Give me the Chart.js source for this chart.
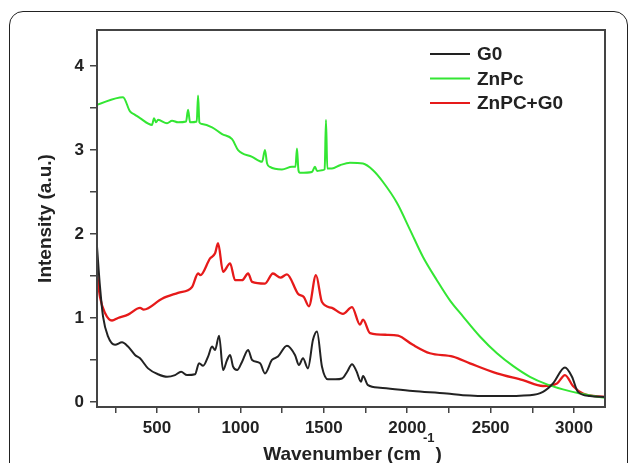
<!DOCTYPE html>
<html>
<head>
<meta charset="utf-8">
<script src="https://cdn.jsdelivr.net/npm/chart.js@4.4.0/dist/chart.umd.min.js"></script>
<style>
  body { margin: 0; background: #fff; }
  #frame {
    position: absolute; left: 9px; top: 11px; width: 617px; height: 480px;
    border: 1.5px solid #222; border-radius: 14px;
  }
  #chart { position: absolute; left: 0; top: 0; }
</style>
</head>
<body>
<div id="frame"></div>
<canvas id="chart" width="629" height="463"></canvas>
<script>
// G0
const g0Wn = [140, 158, 176, 206, 248, 290, 326, 368, 398, 446, 506, 560, 608, 644, 680, 728, 752, 776, 806, 830,
  848, 872, 896, 920, 938, 956, 980, 1010, 1046, 1070, 1118, 1147, 1189, 1225, 1279, 1327, 1351, 1375, 1405, 1435,
  1459, 1489, 1525, 1570, 1609, 1640, 1669, 1695, 1723, 1735, 1765, 1837, 2034, 2238, 2334, 2538, 2736, 2814, 2874,
  2946, 2988, 3024, 3096, 3186];
const g0Int = [1.85, 1.37, 1.02, 0.78, 0.68, 0.71, 0.66, 0.56, 0.52, 0.40, 0.33, 0.30, 0.32, 0.36, 0.32, 0.33, 0.46, 0.43, 0.54, 0.66,
  0.62, 0.79, 0.38, 0.50, 0.56, 0.42, 0.38, 0.48, 0.62, 0.50, 0.46, 0.34, 0.50, 0.54, 0.67, 0.56, 0.44, 0.52, 0.40, 0.74,
  0.84, 0.42, 0.27, 0.27, 0.28, 0.36, 0.45, 0.37, 0.24, 0.31, 0.20, 0.17, 0.13, 0.10, 0.08, 0.07, 0.08, 0.12, 0.22,
  0.41, 0.30, 0.12, 0.07, 0.06];

// ZnPc
const znpcWn = [140, 296, 338, 368, 398, 470, 482, 494, 506, 560, 590, 626, 674, 686, 698, 738, 746, 754, 770, 830,
  890, 950, 986, 1070, 1130, 1147, 1160, 1177, 1249, 1309, 1330, 1339, 1348, 1357, 1429, 1447, 1460, 1489, 1505, 1513,
  1521, 1549, 1597, 1657, 1735, 1795, 1855, 1939, 2017, 2094, 2178, 2256, 2334, 2436, 2538, 2634, 2736, 2838, 2934,
  3036, 3114, 3186];
const znpcInt = [3.54, 3.63, 3.46, 3.42, 3.38, 3.30, 3.38, 3.33, 3.36, 3.32, 3.35, 3.33, 3.34, 3.48, 3.33, 3.34, 3.65, 3.33, 3.31, 3.27,
  3.19, 3.13, 3.00, 2.92, 2.86, 3.00, 2.84, 2.80, 2.77, 2.80, 2.80, 3.02, 2.76, 2.73, 2.74, 2.80, 2.75, 2.76, 2.77, 3.36,
  2.78, 2.78, 2.82, 2.85, 2.84, 2.76, 2.62, 2.37, 2.05, 1.73, 1.45, 1.21, 1.02, 0.78, 0.58, 0.43, 0.30, 0.21, 0.15,
  0.10, 0.07, 0.05];

// ZnPC+G0
const mixWn = [140, 158, 188, 230, 266, 326, 398, 420, 530, 626, 710, 746, 760, 818, 848, 866, 896, 938, 968, 1010,
  1046, 1070, 1147, 1195, 1240, 1279, 1345, 1380, 1411, 1453, 1489, 1549, 1615, 1669, 1717, 1735, 1777, 1879, 1945,
  2034, 2136, 2274, 2376, 2538, 2694, 2814, 2898, 2946, 2994, 3054, 3186];
const mixInt = [1.53, 1.25, 1.06, 0.97, 1.00, 1.04, 1.12, 1.10, 1.23, 1.30, 1.37, 1.53, 1.51, 1.71, 1.77, 1.89, 1.55, 1.65, 1.45, 1.45,
  1.53, 1.43, 1.41, 1.53, 1.48, 1.52, 1.29, 1.25, 1.14, 1.51, 1.19, 1.12, 1.05, 1.13, 0.92, 0.98, 0.82, 0.80, 0.79,
  0.68, 0.58, 0.54, 0.46, 0.34, 0.26, 0.19, 0.22, 0.32, 0.19, 0.10, 0.06];

const seriesNames = ['G0', 'ZnPc', 'ZnPC+G0'];
const seriesColors = ['#222222', '#33e633', '#e61a1a'];

const xTicks = [250, 500, 750, 1000, 1250, 1500, 1750, 2000, 2250, 2500, 2750, 3000];
const yTicks = [0, 0.5, 1, 1.5, 2, 2.5, 3, 3.5, 4];

const fontFam = '"Liberation Sans", Arial, sans-serif';

function toPoints(xs, ys) {
    return xs.map((x, i) => ({ x: x, y: ys[i] }));
}

// box around the plot area, legend inside it, x title with superscript
const extras = {
    id: 'extras',
    afterDatasetsDraw(chart) {
        const ctx = chart.ctx;
        const a = chart.chartArea;
        ctx.save();
        ctx.strokeStyle = '#444';
        ctx.lineWidth = 2;
        ctx.strokeRect(a.left, a.top, a.right - a.left, a.bottom - a.top);

        // legend
        ctx.font = 'bold 19px ' + fontFam;
        ctx.textBaseline = 'middle';
        chart.data.datasets.forEach((ds, i) => {
            const y = a.top + 24 + i * 24.5;
            ctx.strokeStyle = ds.borderColor;
            ctx.lineWidth = 2;
            ctx.beginPath();
            ctx.moveTo(a.left + 333, y);
            ctx.lineTo(a.left + 373, y);
            ctx.stroke();
            ctx.fillStyle = '#222';
            ctx.fillText(ds.label, a.left + 380, y + 1);
        });

        // x title
        const main = 'Wavenumber (cm';
        const sup = '-1';
        const close = ')';
        ctx.font = 'bold 19px ' + fontFam;
        const w1 = ctx.measureText(main).width;
        const w3 = ctx.measureText(close).width;
        ctx.font = 'bold 13px ' + fontFam;
        const w2 = ctx.measureText(sup).width;
        const cx = (a.left + a.right) / 2;
        let x = cx - (w1 + w2 + w3) / 2;
        const base = 460;
        ctx.textBaseline = 'alphabetic';
        ctx.fillStyle = '#222';
        ctx.font = 'bold 19px ' + fontFam;
        ctx.fillText(main, x, base);
        ctx.font = 'bold 13px ' + fontFam;
        ctx.fillText(sup, x + w1 + 2, base - 18);
        ctx.font = 'bold 19px ' + fontFam;
        ctx.fillText(close, x + w1 + w2 + 3, base);
        ctx.restore();
    }
};

new Chart(document.getElementById('chart').getContext('2d'), {
    type: 'line',
    data: {
        datasets: [
            { label: seriesNames[0], data: toPoints(g0Wn, g0Int), borderColor: seriesColors[0] },
            { label: seriesNames[1], data: toPoints(znpcWn, znpcInt), borderColor: seriesColors[1] },
            { label: seriesNames[2], data: toPoints(mixWn, mixInt), borderColor: seriesColors[2], borderWidth: 2.3 }
        ]
    },
    options: {
        responsive: false,
        animation: false,
        layout: { padding: { top: 30, right: 24, left: 0, bottom: 0 } },
        elements: {
            point: { radius: 0 },
            line: { borderWidth: 2, cubicInterpolationMode: 'monotone' }
        },
        plugins: {
            legend: { display: false },
            tooltip: { enabled: false }
        },
        scales: {
            x: {
                type: 'linear',
                min: 140,
                max: 3186,
                afterFit: (scale) => { scale.height = 56; },
                afterBuildTicks: (scale) => { scale.ticks = xTicks.map(v => ({ value: v })); },
                grid: { drawOnChartArea: false, drawTicks: true, tickLength: 6, color: '#444', lineWidth: 1.5 },
                border: { display: true, color: '#444', width: 2 },
                ticks: {
                    padding: 5,
                    color: '#222',
                    font: { family: fontFam, size: 17, weight: 'bold' },
                    maxRotation: 0,
                    autoSkip: false,
                    callback: (v) => (v % 500 === 0 ? String(v) : '')
                }
            },
            y: {
                min: -0.06,
                max: 4.43,
                afterFit: (scale) => { scale.width = 97; },
                afterBuildTicks: (scale) => { scale.ticks = yTicks.map(v => ({ value: v })); },
                grid: { drawOnChartArea: false, drawTicks: true, tickLength: 7, color: '#444', lineWidth: 1.5 },
                border: { display: true, color: '#444', width: 2 },
                title: {
                    display: true,
                    text: 'Intensity (a.u.)',
                    color: '#222',
                    font: { family: fontFam, size: 19, weight: 'bold' },
                    padding: { top: 34 }
                },
                ticks: {
                    padding: 6,
                    color: '#222',
                    font: { family: fontFam, size: 17, weight: 'bold' },
                    autoSkip: false,
                    callback: (v) => (Number.isInteger(v) ? String(v) : '')
                }
            }
        }
    },
    plugins: [extras]
});
</script>
</body>
</html>
